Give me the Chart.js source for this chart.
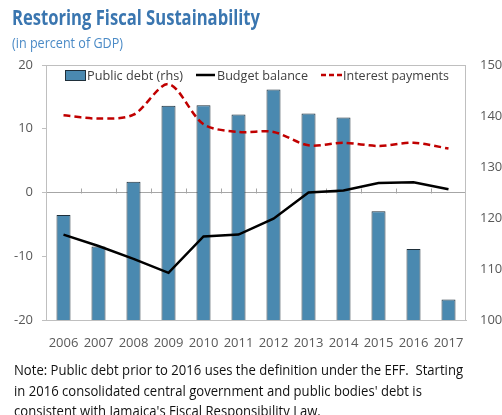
<!DOCTYPE html>
<html>
<head>
<meta charset="utf-8">
<script src="https://cdn.jsdelivr.net/npm/chart.js@4.4.1/dist/chart.umd.min.js"></script>
<style>
  html, body { margin: 0; padding: 0; background: #fff; }
  #wrap { position: relative; width: 502px; height: 415px; overflow: hidden; }
  #chart { position: absolute; left: 0; top: 0; }
  .txt { position: absolute; white-space: nowrap; transform-origin: 0 0; }
  #title { left: 12px; top: 3px; font: bold 21px "Open Sans"; color: #3a76b0; }
  #sub { left: 12px; top: 33px; font: 14px "Open Sans"; color: #4a8ac6; }
  #note { left: 14px; top: 359px; font: 15px "Open Sans"; color: #111; line-height: 20.5px; }
  .lg { position: absolute; white-space: nowrap; font: 13px "Open Sans"; color: #404040; top: 66px; transform-origin: 0 0; }
  #lgBox { position: absolute; left: 65px; top: 70px; width: 19px; height: 9px; background: #4a89b0; border: 1px solid #1f2f3a; }
  #lgLines { position: absolute; left: 0; top: 0; }
</style>
</head>
<body>
<div id="wrap">
  <canvas id="chart" width="502" height="415"></canvas>
  <div id="title" class="txt">Restoring Fiscal Sustainability</div>
  <div id="sub" class="txt">(in percent of GDP)</div>
  <div id="lgBox"></div>
  <svg id="lgLines" width="502" height="100">
    <line x1="196" y1="75" x2="215" y2="75" stroke="#000" stroke-width="2.5"/>
    <line x1="321" y1="75" x2="342" y2="75" stroke="#c00000" stroke-width="2.5" stroke-dasharray="5,3"/>
  </svg>
  <div id="lg1" class="lg" style="left:87px">Public debt (rhs)</div>
  <div id="lg2" class="lg" style="left:217px">Budget balance</div>
  <div id="lg3" class="lg" style="left:343px">Interest payments</div>
  <div id="note" class="txt">Note: Public debt prior to 2016 uses the definition under the EFF.&nbsp; Starting<br>in 2016 consolidated central government and public bodies' debt is<br>consistent with Jamaica's Fiscal Responsibility Law.</div>
</div>
<script>
// Fiscal indicators, percent of GDP
const years = ['2006', '2007', '2008', '2009', '2010', '2011', '2012', '2013', '2014', '2015', '2016', '2017'];
const publicDebt = [120.6, 114.4, 127.1, 142.0, 142.1, 140.3, 145.2, 140.5, 139.7, 121.3, 113.9, 104.0];
const budgetBalance = [-6.6, -8.4, -10.4, -12.6, -6.9, -6.6, -4.1, 0.0, 0.3, 1.5, 1.6, 0.5];
const interestPayments = [12.1, 11.6, 12.2, 17.0, 10.7, 9.5, 9.5, 7.4, 7.8, 7.3, 7.8, 6.9];

// Left and right axis tick values
const leftTicks = [-20, -10, 0, 10, 20];
const rightTicks = [100, 110, 120, 130, 140, 150];

// Squeeze each HTML label to its intended width
function fitWidth(id, w) {
  const el = document.getElementById(id);
  const cur = el.getBoundingClientRect().width;
  if (cur > 0) el.style.transform = 'scaleX(' + (w / cur) + ')';
}
fitWidth('title', 248);
fitWidth('sub', 111);
fitWidth('note', 449);
fitWidth('lg1', 96);
fitWidth('lg2', 91);
fitWidth('lg3', 106);

const axisFont = { family: 'Open Sans', size: 13 };
const gridGrey = '#bfbfbf';

// Frame around the plot area plus small category ticks on the zero line
const framePlugin = {
  id: 'frame',
  beforeDatasetsDraw(chart) {
    const { ctx, chartArea: a, scales } = chart;
    ctx.save();
    ctx.strokeStyle = gridGrey;
    ctx.lineWidth = 1;
    ctx.strokeRect(Math.round(a.left) + 0.5, Math.round(a.top) + 0.5,
      Math.round(a.right - a.left) - 1, Math.round(a.bottom - a.top));
    const y0 = Math.round(scales.y.getPixelForValue(0)) + 0.5;
    ctx.strokeStyle = '#a6a6a6';
    ctx.beginPath();
    for (let i = 1; i < years.length; i++) {
      const x = Math.round((scales.x.getPixelForValue(i - 1) + scales.x.getPixelForValue(i)) / 2) + 0.5;
      ctx.moveTo(x, y0);
      ctx.lineTo(x, y0 - 5);
    }
    ctx.stroke();
    ctx.restore();
  }
};

new Chart(document.getElementById('chart'), {
  data: {
    labels: years,
    datasets: [
      {
        type: 'bar',
        label: 'Public debt (rhs)',
        data: publicDebt,
        yAxisID: 'y2',
        backgroundColor: '#4a89b0',
        borderColor: '#1f2f3a',
        borderWidth: 1,
        borderSkipped: false,
        barPercentage: 0.4,
        categoryPercentage: 1.0,
        order: 3
      },
      {
        type: 'line',
        label: 'Budget balance',
        data: budgetBalance,
        yAxisID: 'y',
        borderColor: '#000000',
        borderWidth: 2.5,
        pointRadius: 0,
        tension: 0,
        order: 2
      },
      {
        type: 'line',
        label: 'Interest payments',
        data: interestPayments,
        yAxisID: 'y',
        borderColor: '#c00000',
        borderWidth: 2.5,
        borderDash: [7, 4],
        pointRadius: 0,
        tension: 0.3,
        order: 1
      }
    ]
  },
  options: {
    responsive: false,
    animation: false,
    layout: { padding: { top: 65, left: 0, right: 0, bottom: 0 } },
    plugins: { legend: { display: false }, tooltip: { enabled: false }, title: { display: false } },
    scales: {
      x: {
        offset: true,
        grid: { display: false, drawTicks: false },
        border: { display: true, color: gridGrey },
        ticks: { font: axisFont, color: '#595959', padding: 15, maxRotation: 0, autoSkip: false },
        afterFit(s) { s.height = 95; }
      },
      y: {
        position: 'left',
        min: -20, max: 20,
        afterBuildTicks(s) { s.ticks = leftTicks.map(v => ({ value: v })); },
        grid: {
          drawOnChartArea: true,
          color: c => (c.tick && c.tick.value === 0 ? '#a6a6a6' : 'rgba(0,0,0,0)'),
          tickColor: gridGrey,
          tickLength: 4
        },
        border: { display: true, color: gridGrey },
        ticks: { font: axisFont, color: '#595959', padding: 9 },
        afterFit(s) { s.width = 46; }
      },
      y2: {
        position: 'right',
        min: 100, max: 150,
        afterBuildTicks(s) { s.ticks = rightTicks.map(v => ({ value: v })); },
        grid: { display: false, drawTicks: false },
        border: { display: false },
        ticks: { font: axisFont, color: '#595959', padding: 14 },
        afterFit(s) { s.width = 36; }
      }
    }
  },
  plugins: [framePlugin]
});
</script>
</body>
</html>
